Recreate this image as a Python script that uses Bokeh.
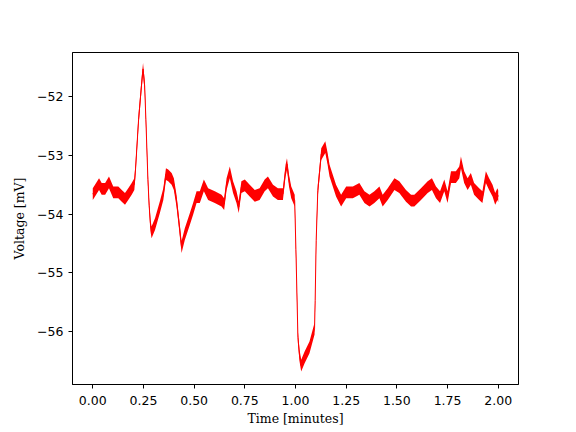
from bokeh.plotting import figure
from bokeh.models import Range1d, FixedTicker, ColumnDataSource
from bokeh.embed import file_html
from bokeh.resources import INLINE

# Time [minutes] and voltage [mV]
time_min = [
    0.000, 0.011, 0.031, 0.044, 0.061, 0.080, 0.101, 0.126, 0.143, 0.159,
    0.175, 0.192, 0.205, 0.211, 0.226, 0.243, 0.248, 0.256, 0.262, 0.272,
    0.278, 0.285, 0.290, 0.307, 0.331, 0.348, 0.361, 0.372, 0.389, 0.400,
    0.413, 0.426, 0.438, 0.454, 0.479, 0.496, 0.512, 0.528, 0.548, 0.569,
    0.602, 0.635, 0.648, 0.660, 0.676, 0.692, 0.709, 0.720, 0.733, 0.750,
    0.774, 0.799, 0.823, 0.848, 0.864, 0.889, 0.913, 0.938, 0.951, 0.958,
    0.968, 0.979, 0.996, 1.002, 1.012, 1.020, 1.028, 1.045, 1.069, 1.094,
    1.097, 1.102, 1.110, 1.127, 1.147, 1.158, 1.168, 1.200, 1.225, 1.250,
    1.283, 1.315, 1.340, 1.365, 1.389, 1.414, 1.430, 1.455, 1.488, 1.512,
    1.545, 1.570, 1.586, 1.619, 1.652, 1.673, 1.693, 1.713, 1.734, 1.750,
    1.767, 1.791, 1.808, 1.816, 1.832, 1.849, 1.865, 1.881, 1.906, 1.922,
    1.939, 1.955, 1.972, 1.985, 1.996, 2.000,
]
voltage_mv = [
    -53.66, -53.60, -53.49, -53.57, -53.57, -53.46, -53.63, -53.63, -53.69, -53.74,
    -53.66, -53.57, -53.49, -53.23, -52.39, -51.70, -51.53, -51.82, -52.39, -53.41,
    -53.85, -54.20, -54.31, -54.17, -53.88, -53.66, -53.32, -53.34, -53.40, -53.49,
    -53.77, -54.17, -54.56, -54.34, -54.08, -53.90, -53.71, -53.71, -53.51, -53.66,
    -53.71, -53.77, -53.83, -53.49, -53.29, -53.54, -53.71, -53.88, -53.54, -53.51,
    -53.60, -53.69, -53.66, -53.51, -53.46, -53.60, -53.66, -53.66, -53.26, -53.15,
    -53.43, -53.63, -53.77, -54.60, -56.10, -56.41, -56.58, -56.44, -56.27, -55.95,
    -55.47, -54.45, -53.60, -52.98, -52.86, -53.05, -53.26, -53.60, -53.77, -53.63,
    -53.63, -53.57, -53.71, -53.77, -53.71, -53.63, -53.77, -53.66, -53.49, -53.54,
    -53.69, -53.77, -53.77, -53.66, -53.54, -53.49, -53.63, -53.71, -53.51, -53.71,
    -53.37, -53.37, -53.29, -53.12, -53.37, -53.49, -53.40, -53.57, -53.66, -53.71,
    -53.37, -53.49, -53.60, -53.74, -53.66, -53.70,
]

x_ticks = [0.0, 0.25, 0.5, 0.75, 1.0, 1.25, 1.5, 1.75, 2.0]
x_tick_labels = ["0.00", "0.25", "0.50", "0.75", "1.00", "1.25", "1.50", "1.75", "2.00"]
y_ticks = [-56, -55, -54, -53, -52]
y_tick_labels = ["\u221256", "\u221255", "\u221254", "\u221253", "\u221252"]

NOISE_HALF = 0.1  # visual thickness of the noisy trace (mV)

src = ColumnDataSource(dict(
    t=time_min,
    v=voltage_mv,
    lo=[v - NOISE_HALF for v in voltage_mv],
    hi=[v + NOISE_HALF for v in voltage_mv],
))

p = figure(
    width=576, height=432,
    x_range=Range1d(-0.1, 2.1), y_range=Range1d(-56.90, -51.25),
    output_backend="svg", toolbar_location=None,
    min_border_left=72, min_border_right=58, min_border_top=52, min_border_bottom=48,
)
p.background_fill_color = "white"
p.border_fill_color = "white"
p.outline_line_color = "black"
p.outline_line_width = 1
p.xgrid.visible = False
p.ygrid.visible = False

p.varea(x="t", y1="lo", y2="hi", source=src, fill_color="#ff0000")
p.line(x="t", y="v", source=src, line_color="#ff0000", line_width=1)

p.xaxis.ticker = FixedTicker(ticks=x_ticks)
p.xaxis.major_label_overrides = dict(zip(x_ticks, x_tick_labels))
p.yaxis.ticker = FixedTicker(ticks=y_ticks)
p.yaxis.major_label_overrides = dict(zip(y_ticks, y_tick_labels))

for ax in (p.xaxis[0], p.yaxis[0]):
    ax.minor_tick_line_color = None
    ax.major_tick_in = 0
    ax.major_tick_out = 4
    ax.major_tick_line_color = "black"
    ax.axis_line_color = "black"
    ax.major_label_text_font = "DejaVu Sans"
    ax.major_label_text_font_size = "12.5px"
    ax.major_label_text_color = "black"
    ax.axis_label_text_font = "DejaVu Serif"
    ax.axis_label_text_font_size = "12.5px"
    ax.axis_label_text_font_style = "normal"
    ax.axis_label_text_color = "black"

p.xaxis.axis_label = "Time [minutes]"
p.yaxis.axis_label = "Voltage [mV]"
p.xaxis.major_label_standoff = 7
p.xaxis.axis_label_standoff = 3
p.yaxis.major_label_standoff = 5
p.yaxis.axis_label_standoff = 7

open("out.html", "w").write(file_html(p, INLINE))
